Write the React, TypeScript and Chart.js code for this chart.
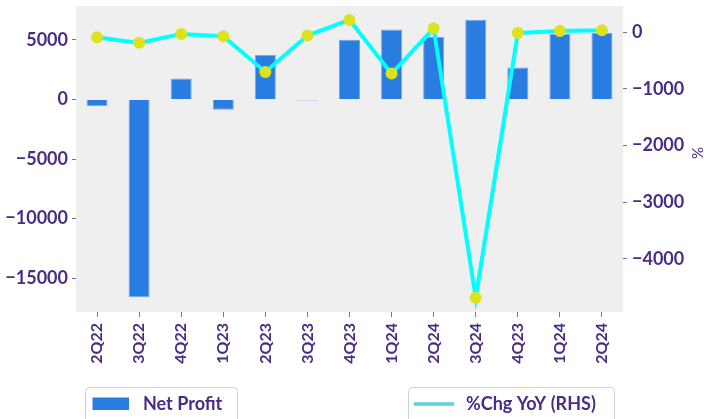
import React, { useEffect, useRef } from "react";
import { Chart, registerables } from "chart.js";

Chart.register(...registerables);

const categories = ["2Q22", "3Q22", "4Q22", "1Q23", "2Q23", "3Q23", "4Q23", "1Q24", "2Q24", "3Q24", "4Q23", "1Q24", "2Q24"];
const netProfit = [-550, -16600, 1750, -860, 3725, -100, 5000, 5860, 5250, 6670, 2670, 5475, 5560];
const yoyChange = [-88, -187, -29, -70, -700, -58, 218, -730, 70, -4690, -12, 23, 35];
const leftTicks = [-15000, -10000, -5000, 0, 5000];
const rightTicks = [-4000, -3000, -2000, -1000, 0];
const legendLabels = ["Net Profit", "%Chg YoY (RHS)"];
const rightAxisLabel = "%";

const TEXT = "#4b2c85";
const TICK = "#7d6aa8";
const FONT = "Lato, 'DejaVu Sans', sans-serif";
const BAR = "#2a7de0";
const LINE = "#00ffff";
const POINT = "#dde21f";

const fmt = (v: number) => (v < 0 ? "\u2212" + Math.abs(v) : String(v));

export default function App() {
  const ref = useRef<HTMLCanvasElement>(null);
  useEffect(() => {
    document.body.style.margin = "0";
    const canvas = ref.current;
    if (!canvas) return;

    const decor = {
      id: "decor",
      beforeDraw(chart: any) {
        const { ctx, chartArea: a } = chart;
        ctx.save();
        ctx.fillStyle = "#efefef";
        ctx.fillRect(a.left, a.top, a.right - a.left, a.bottom - a.top);
        ctx.restore();
      },
      afterDraw(chart: any) {
        const { ctx } = chart;
        ctx.save();
        // legend 1
        ctx.fillStyle = "#ffffff";
        ctx.strokeStyle = "#d0d0d0";
        ctx.lineWidth = 1;
        ctx.beginPath();
        ctx.roundRect(85.5, 387.5, 152, 40, 4);
        ctx.fill();
        ctx.stroke();
        ctx.fillStyle = BAR;
        ctx.fillRect(92.5, 397.5, 36.5, 12.5);
        ctx.font = "bold 18px " + FONT;
        ctx.fillStyle = TEXT;
        ctx.textBaseline = "middle";
        ctx.textAlign = "left";
        ctx.fillText(legendLabels[0], 143, 404);
        // legend 2
        ctx.fillStyle = "#ffffff";
        ctx.beginPath();
        ctx.roundRect(408.5, 387.5, 206, 40, 4);
        ctx.fill();
        ctx.stroke();
        ctx.strokeStyle = "#5dd0dd";
        ctx.lineWidth = 3.5;
        ctx.beginPath();
        ctx.moveTo(414, 404);
        ctx.lineTo(454, 404);
        ctx.stroke();
        ctx.fillStyle = TEXT;
        ctx.fillText(legendLabels[1], 466, 404);
        // right axis label
        ctx.translate(698, 153);
        ctx.rotate(-Math.PI / 2);
        ctx.textAlign = "center";
        ctx.font = "15px " + FONT;
        ctx.fillText(rightAxisLabel, 0, 0);
        ctx.restore();
      },
    };

    const tickFont = { family: FONT, size: 18, weight: "bold" as const };
    const noPad = (s: any, w: number) => {
      s.width = w;
      s.paddingTop = 0;
      s.paddingBottom = 0;
    };

    const chart = new Chart(canvas, {
      type: "bar",
      data: {
        labels: categories,
        datasets: [
          {
            type: "line",
            label: legendLabels[1],
            data: yoyChange,
            yAxisID: "y1",
            borderColor: LINE,
            borderWidth: 4,
            pointRadius: 6,
            pointBackgroundColor: POINT,
            pointBorderWidth: 0,
            tension: 0,
            order: 0,
          } as any,
          {
            type: "bar",
            label: legendLabels[0],
            data: netProfit,
            yAxisID: "y",
            backgroundColor: BAR,
            borderColor: "#72a8ec",
            borderWidth: 1,
            barPercentage: 0.5,
            categoryPercentage: 1,
            order: 1,
          },
        ],
      },
      plugins: [decor],
      options: {
        responsive: false,
        animation: false,
        layout: { padding: { top: 4, left: 0, right: 0, bottom: 0 } },
        plugins: { legend: { display: false }, tooltip: { enabled: false } },
        scales: {
          x: {
            type: "category",
            offset: true,
            grid: { display: true, offset: false, drawOnChartArea: false, drawTicks: true, tickLength: 5, color: TICK },
            border: { display: false },
            ticks: { minRotation: 90, maxRotation: 90, autoSkip: false, padding: 6, color: TEXT, font: { family: FONT, size: 16, weight: "bold" } },
            afterFit: (s: any) => { s.height = 107; s.paddingLeft = 0; s.paddingRight = 0; },
          },
          y: {
            type: "linear",
            position: "left",
            min: -17833,
            max: 7833,
            grid: { display: true, drawOnChartArea: false, drawTicks: true, tickLength: 4, color: TICK },
            border: { display: false },
            afterBuildTicks: (s: any) => { s.ticks = leftTicks.map((v) => ({ value: v })); },
            ticks: { padding: 4, color: TEXT, font: tickFont, callback: (v: any) => fmt(Number(v)) },
            afterFit: (s: any) => noPad(s, 76),
          },
          y1: {
            type: "linear",
            position: "right",
            min: -4940,
            max: 464,
            grid: { display: true, drawOnChartArea: false, drawTicks: true, tickLength: 4, color: TICK },
            border: { display: false },
            afterBuildTicks: (s: any) => { s.ticks = rightTicks.map((v) => ({ value: v })); },
            ticks: { padding: 5, color: TEXT, font: tickFont, callback: (v: any) => fmt(Number(v)) },
            afterFit: (s: any) => noPad(s, 81),
          },
        },
      },
    });
    return () => chart.destroy();
  }, []);
  return <canvas ref={ref} width={704} height={419} style={{ display: "block" }} />;
}
